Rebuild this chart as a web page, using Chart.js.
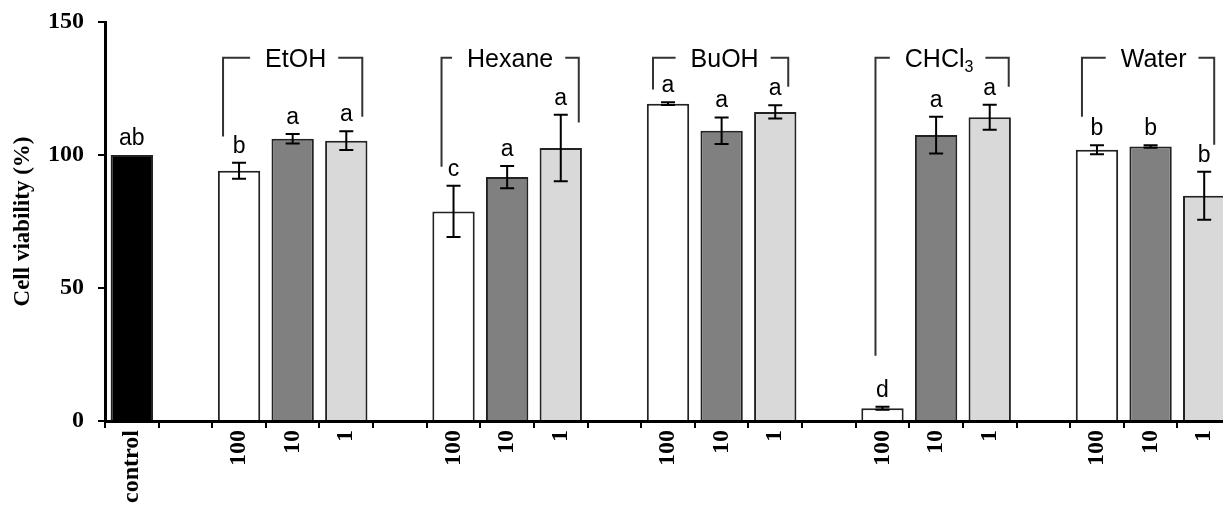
<!DOCTYPE html>
<html>
<head>
<meta charset="utf-8">
<script src="https://cdn.jsdelivr.net/npm/chart.js@4.4.1/dist/chart.umd.min.js"></script>
<style>
  html, body { margin: 0; padding: 0; background: #fff; overflow: hidden; }
  #wrap { width: 1235px; height: 507px; }
</style>
</head>
<body>
<div id="wrap"><canvas id="viabilityChart"></canvas></div>
<script>
// 类别（空字符串 = 组间空位）
const categories = ['control', '',
  '100', '10', '1', '',
  '100', '10', '1', '',
  '100', '10', '1', '',
  '100', '10', '1', '',
  '100', '10', '1'];

// 细胞活力 (%) 与误差
const viability = [100, null,
  94.1, 106.1, 105.4, null,
  78.8, 91.7, 102.6, null,
  119.3, 109.1, 116.2, null,
  4.8, 107.5, 114.2, null,
  102.0, 103.2, 84.7];
const errors = [0, null,
  3.0, 1.8, 3.5, null,
  9.6, 4.2, 12.5, null,
  0.5, 5.0, 2.5, null,
  0.6, 6.9, 4.7, null,
  1.7, 0.5, 9.0];
const letters = ['ab', '',
  'b', 'a', 'a', '',
  'c', 'a', 'a', '',
  'a', 'a', 'a', '',
  'd', 'a', 'a', '',
  'b', 'b', 'b'];

// 溶剂分组括号
const groupNames = ['EtOH', 'Hexane', 'BuOH', 'CHCl3', 'Water'];
const bracketTop = 136.6;
const bracketLeftEnd = [107, 95.6, 124.6, 24.5, 114.4];
const bracketRightEnd = [114.4, 112.2, 125.7, 125.7, 103.9];

const yTicks = [0, 50, 100, 150];

// 颜色
const fills = { control: '#000000', '100': '#ffffff', '10': '#808080', '1': '#d9d9d9' };
const legDx = [[-16, 16], [-12, 18], [-15, 13], [-7, 19], [-15, 10]];

const annotate = {
    id: 'annotate',
    afterDatasetsDraw(chart) {
        const { ctx, scales: { x, y } } = chart;
        ctx.save();

        // 误差线
        ctx.strokeStyle = '#000';
        ctx.lineWidth = 2;
        viability.forEach((v, i) => {
            const e = errors[i];
            if (v == null || !e) return;
            const cx = x.getPixelForValue(i);
            const yt = y.getPixelForValue(v + e);
            const yb = y.getPixelForValue(v - e);
            ctx.beginPath();
            ctx.moveTo(cx, yt); ctx.lineTo(cx, yb);
            ctx.moveTo(cx - 7, yt); ctx.lineTo(cx + 7, yt);
            ctx.moveTo(cx - 7, yb); ctx.lineTo(cx + 7, yb);
            ctx.stroke();
        });

        // 显著性字母
        ctx.fillStyle = '#000';
        ctx.font = '23px "Liberation Sans", Arial, sans-serif';
        ctx.textAlign = 'center';
        ctx.textBaseline = 'alphabetic';
        letters.forEach((l, i) => {
            if (!l) return;
            const top = y.getPixelForValue(viability[i] + (errors[i] || 0));
            ctx.fillText(l, x.getPixelForValue(i), top - 10);
        });

        // 分组括号
        ctx.strokeStyle = '#333';
        ctx.lineWidth = 2;
        const yTop = y.getPixelForValue(bracketTop);
        groupNames.forEach((name, k) => {
            const first = 2 + k * 4;
            const xl = x.getPixelForValue(first) + legDx[k][0];
            const xr = x.getPixelForValue(first + 2) + legDx[k][1];
            const xm = x.getPixelForValue(first + 1) + 3;

            const m = name.match(/^(.*?)(\d*)$/);
            const main = m[1], sub = m[2];
            const mainFont = '25px "Liberation Sans", Arial, sans-serif';
            const subFont = '16px "Liberation Sans", Arial, sans-serif';
            ctx.font = mainFont;
            const wMain = ctx.measureText(main).width;
            ctx.font = subFont;
            const wSub = sub ? ctx.measureText(sub).width : 0;
            const total = wMain + wSub;
            const tx = xm - total / 2;

            ctx.textAlign = 'left';
            ctx.font = mainFont;
            ctx.fillText(main, tx, yTop + 9);
            if (sub) {
                ctx.font = subFont;
                ctx.fillText(sub, tx + wMain, yTop + 14);
            }

            ctx.beginPath();
            ctx.moveTo(xl, y.getPixelForValue(bracketLeftEnd[k]));
            ctx.lineTo(xl, yTop);
            ctx.lineTo(tx - 15, yTop);
            ctx.moveTo(tx + total + 12, yTop);
            ctx.lineTo(xr, yTop);
            ctx.lineTo(xr, y.getPixelForValue(bracketRightEnd[k]));
            ctx.stroke();
        });
        ctx.restore();
    }
};

const ctx = document.getElementById('viabilityChart').getContext('2d');

new Chart(ctx, {
    type: 'bar',
    data: {
        labels: categories,
        datasets: [{
            data: viability,
            backgroundColor: categories.map(c => fills[c] || 'transparent'),
            borderColor: '#222',
            borderWidth: 2,
            barPercentage: 0.79,
            categoryPercentage: 1
        }]
    },
    options: {
        responsive: true,
        maintainAspectRatio: false,
        animation: false,
        layout: { padding: { top: 22, left: 0, right: 0, bottom: 0 } },
        plugins: {
            legend: { display: false },
            tooltip: { enabled: false }
        },
        scales: {
            x: {
                afterFit: s => { s.height = 86; },
                grid: {
                    offset: true,
                    drawOnChartArea: false,
                    drawTicks: true,
                    tickLength: 7,
                    color: '#000',
                    lineWidth: 2
                },
                border: { display: true, color: '#000', width: 3 },
                ticks: {
                    autoSkip: false,
                    minRotation: 90,
                    maxRotation: 90,
                    padding: 2,
                    color: '#000',
                    font: { family: '"Liberation Serif", "Times New Roman", serif', size: 24, weight: 'bold' }
                }
            },
            y: {
                min: 0,
                max: 150,
                afterFit: s => { s.width = 105; s.paddingTop = 0; s.paddingBottom = 0; },
                afterBuildTicks: s => { s.ticks = yTicks.map(v => ({ value: v })); },
                grid: {
                    drawOnChartArea: false,
                    drawTicks: true,
                    tickLength: 7,
                    color: '#000',
                    lineWidth: 2
                },
                border: { display: true, color: '#000', width: 3 },
                ticks: {
                    padding: 14,
                    color: '#000',
                    font: { family: '"Liberation Serif", "Times New Roman", serif', size: 24, weight: 'bold' }
                },
                title: {
                    display: true,
                    text: 'Cell viability (%)',
                    color: '#000',
                    padding: { top: 9, bottom: 0 },
                    font: { family: '"Liberation Serif", "Times New Roman", serif', size: 23, weight: 'bold' }
                }
            }
        }
    },
    plugins: [annotate]
});
</script>
</body>
</html>
